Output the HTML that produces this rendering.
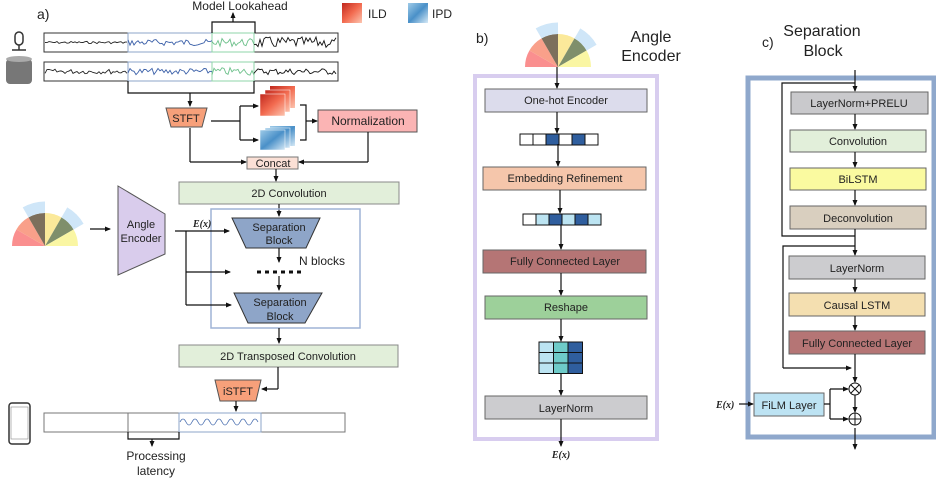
<!DOCTYPE html>
<html><head><meta charset="utf-8"><style>
body{margin:0;background:#fff}
svg{display:block}
text{font-family:"Liberation Sans",sans-serif;fill:#222}
.t{font-size:11px;text-anchor:middle}
.l{stroke:#111;stroke-width:1.2;fill:none}
</style></head><body>
<svg id="s" width="936" height="480" viewBox="0 0 936 480" xmlns="http://www.w3.org/2000/svg">
<defs>
<marker id="a" markerWidth="6" markerHeight="6" refX="5" refY="3" orient="auto" markerUnits="userSpaceOnUse"><path d="M0,0.5L6,3L0,5.5z" fill="#111"/></marker>
<linearGradient id="ild" x1="0" y1="0" x2="1" y2="1"><stop offset="0" stop-color="#c0281e"/><stop offset=".5" stop-color="#f26a4f"/><stop offset="1" stop-color="#fcc5b0"/></linearGradient>
<linearGradient id="ipd" x1="0" y1="0" x2="1" y2="1"><stop offset="0" stop-color="#9fcbe8"/><stop offset=".5" stop-color="#4a90c8"/><stop offset="1" stop-color="#d6e9f6"/></linearGradient>
</defs>

<text x="37" y="19" style="font-size:14px">a)</text>
<text x="240" y="10" style="font-size:12px;text-anchor:middle">Model Lookahead</text>
<rect x="342" y="3" width="20" height="20" fill="url(#ild)"/><text x="368" y="18" style="font-size:12px">ILD</text>
<rect x="408" y="3" width="20" height="20" fill="url(#ipd)"/><text x="432" y="18" style="font-size:12px">IPD</text>
<rect x="15" y="32" width="8" height="13" rx="4" fill="none" stroke="#333" stroke-width="1.5"/>
<line x1="19" y1="45" x2="19" y2="50" stroke="#333" stroke-width="1.5"/><line x1="12" y1="50" x2="26" y2="50" stroke="#333" stroke-width="1.5"/>
<rect x="6" y="59" width="26" height="25" rx="4" fill="#777"/><ellipse cx="19" cy="59" rx="13" ry="3" fill="#aaa"/>
<rect x="44" y="33" width="294" height="19" fill="none" stroke="#333"/>
<rect x="44" y="62" width="294" height="19" fill="none" stroke="#333"/>
<rect x="128" y="33" width="84" height="19" fill="none" stroke="#8ea5c8"/>
<rect x="128" y="62" width="84" height="19" fill="none" stroke="#8ea5c8"/>
<rect x="212" y="33" width="42" height="19" fill="none" stroke="#8fd4a8"/>
<rect x="212" y="62" width="42" height="19" fill="none" stroke="#8fd4a8"/>
<g id="waves"></g>
<path d="M212,33V22H255V33" class="l"/>
<line x1="233" y1="22" x2="233" y2="13" class="l" marker-end="url(#a)"/>
<path d="M128,81V93H254V81" class="l"/>
<line x1="190" y1="93" x2="190" y2="106" class="l" marker-end="url(#a)"/>
<polygon points="166,108 207,108 202,127 171,127" fill="#f7a07a" stroke="#555"/>
<text x="186" y="122" class="t">STFT</text>
<path d="M211,121H240M240,106V140" class="l"/>
<line x1="240" y1="106" x2="258" y2="106" class="l" marker-end="url(#a)"/>
<line x1="240" y1="140" x2="258" y2="140" class="l" marker-end="url(#a)"/>
<rect x="270" y="86" width="25" height="22" fill="url(#ild)"/><rect x="265" y="90" width="25" height="22" fill="url(#ild)" stroke="#fff" stroke-width=".5"/><rect x="260" y="94" width="25" height="22" fill="url(#ild)" stroke="#fff" stroke-width=".5"/>
<rect x="270" y="126" width="25" height="20" fill="url(#ipd)"/><rect x="265" y="128" width="25" height="20" fill="url(#ipd)" stroke="#fff" stroke-width=".5"/><rect x="260" y="130" width="25" height="20" fill="url(#ipd)" stroke="#fff" stroke-width=".5"/>
<path d="M300,105H306V140H300" class="l"/>
<line x1="306" y1="121" x2="317" y2="121" class="l" marker-end="url(#a)"/>
<rect x="318" y="110" width="99" height="22" fill="#fbb4b4" stroke="#555"/>
<text x="368" y="125" style="font-size:12px;text-anchor:middle">Normalization</text>
<path d="M368,132V162" class="l"/><line x1="368" y1="162" x2="299" y2="162" class="l" marker-end="url(#a)"/>
<path d="M190,128V162" class="l"/><line x1="190" y1="162" x2="246" y2="162" class="l" marker-end="url(#a)"/>
<rect x="247" y="157" width="51" height="12" fill="#fbe0d6" stroke="#777"/>
<text x="273" y="167" class="t">Concat</text>
<line x1="276" y1="169" x2="276" y2="181" class="l" marker-end="url(#a)"/>
<rect x="179" y="182" width="220" height="22" fill="#e2efda" stroke="#888"/>
<text x="289" y="197" class="t">2D Convolution</text>
<line x1="279" y1="204" x2="279" y2="216" class="l" marker-end="url(#a)"/>
<rect x="211" y="209" width="149" height="119" fill="none" stroke="#9fb3d6" stroke-width="1.5"/>
<polygon points="232,218 320,218 306,248 246,248" fill="#8ea5c8" stroke="#333"/>
<text x="279" y="231" class="t">Separation</text><text x="279" y="244" class="t">Block</text>
<line x1="279" y1="248" x2="279" y2="262" class="l" marker-end="url(#a)"/>
<text x="299" y="265" style="font-size:12px">N blocks</text>
<line x1="257" y1="272" x2="301" y2="272" stroke="#111" stroke-width="3" stroke-dasharray="4,4"/>
<line x1="279" y1="276" x2="279" y2="290" class="l" marker-end="url(#a)"/>
<polygon points="234,293 322,293 305,323 248,323" fill="#8ea5c8" stroke="#333"/>
<text x="280" y="306" class="t">Separation</text><text x="280" y="320" class="t">Block</text>
<polygon points="118,186 165,214 165,254 118,275" fill="#d9ccec" stroke="#555"/>
<text x="141" y="228" class="t">Angle</text><text x="141" y="242" class="t">Encoder</text>
<line x1="90" y1="229" x2="110" y2="229" class="l" marker-end="url(#a)"/>
<text x="193" y="227" style="font-family:'Liberation Serif',serif;font-style:italic;font-weight:bold;font-size:10px">E(x)</text>
<line x1="175" y1="231" x2="229" y2="231" class="l" marker-end="url(#a)"/>
<path d="M186,231V305" class="l"/>
<line x1="186" y1="272" x2="230" y2="272" class="l" marker-end="url(#a)"/>
<line x1="186" y1="305" x2="231" y2="305" class="l" marker-end="url(#a)"/>
<g id="fan1" transform="translate(45,246)"></g>
<line x1="279" y1="328" x2="279" y2="343" class="l" marker-end="url(#a)"/>
<rect x="179" y="345" width="219" height="22" fill="#e2efda" stroke="#888"/>
<text x="288" y="360" class="t">2D Transposed Convolution</text>
<path d="M278,367V389" class="l"/><line x1="278" y1="389" x2="262" y2="389" class="l" marker-end="url(#a)"/>
<polygon points="215,380 261,380 256,401 220,401" fill="#f7a07a" stroke="#555"/>
<text x="238" y="395" class="t">iSTFT</text>
<line x1="236" y1="401" x2="236" y2="411" class="l" marker-end="url(#a)"/>
<rect x="44" y="413" width="301" height="19" fill="none" stroke="#777"/>
<line x1="128" y1="413" x2="128" y2="432" stroke="#777"/>
<rect x="179" y="413" width="82" height="19" fill="none" stroke="#8ea5c8"/>
<path d="M180,422 q3,-6 6,0 t6,0 t6,0 t6,0 t6,0 t6,0 t6,0 t6,0 t6,0 t6,0 t6,0 t6,0 t6,0" fill="none" stroke="#4a6fb0" stroke-width="0.8"/>
<path d="M128,432V439H179V432" class="l"/>
<line x1="152" y1="439" x2="152" y2="446" class="l" marker-end="url(#a)"/>
<text x="156" y="460" style="font-size:12px;text-anchor:middle">Processing</text>
<text x="156" y="475" style="font-size:12px;text-anchor:middle">latency</text>
<rect x="9" y="403" width="21" height="41" rx="3" fill="none" stroke="#333" stroke-width="1.5"/>
<rect x="11" y="407" width="17" height="32" fill="none" stroke="#888" stroke-width=".6"/>

<text x="476" y="43" style="font-size:14px">b)</text>
<text x="651" y="42" style="font-size:16px;text-anchor:middle">Angle</text>
<text x="651" y="61" style="font-size:16px;text-anchor:middle">Encoder</text>
<g id="fan2" transform="translate(558,67)"></g>
<rect x="475" y="76" width="182" height="363" fill="none" stroke="#d8cdef" stroke-width="4"/>
<line x1="557" y1="67" x2="557" y2="88" class="l" marker-end="url(#a)"/>
<rect x="485" y="89" width="162" height="23" fill="#dcdcec" stroke="#666"/>
<text x="566" y="104" class="t">One-hot Encoder</text>
<line x1="557" y1="112" x2="557" y2="133" class="l" marker-end="url(#a)"/>
<g id="v1"></g>
<line x1="558" y1="144" x2="558" y2="166" class="l" marker-end="url(#a)"/>
<rect x="483" y="167" width="163" height="23" fill="#f5c6ab" stroke="#666"/>
<text x="565" y="182" class="t">Embedding Refinement</text>
<line x1="560" y1="190" x2="560" y2="213" class="l" marker-end="url(#a)"/>
<g id="v2"></g>
<line x1="561" y1="225" x2="561" y2="249" class="l" marker-end="url(#a)"/>
<rect x="483" y="250" width="163" height="23" fill="#b57575" stroke="#666"/>
<text x="565" y="265" class="t">Fully Connected Layer</text>
<line x1="561" y1="273" x2="561" y2="295" class="l" marker-end="url(#a)"/>
<rect x="485" y="296" width="162" height="23" fill="#9dd09a" stroke="#666"/>
<text x="566" y="311" class="t">Reshape</text>
<line x1="561" y1="319" x2="561" y2="341" class="l" marker-end="url(#a)"/>
<g id="grid"></g>
<line x1="561" y1="373" x2="561" y2="395" class="l" marker-end="url(#a)"/>
<rect x="485" y="396" width="162" height="23" fill="#cccccf" stroke="#666"/>
<text x="566" y="412" class="t">LayerNorm</text>
<line x1="561" y1="419" x2="561" y2="446" class="l" marker-end="url(#a)"/>
<text x="561" y="458" style="font-family:'Liberation Serif',serif;font-style:italic;font-weight:bold;font-size:10px;text-anchor:middle">E(x)</text>

<text x="762" y="47" style="font-size:14px">c)</text>
<text x="822" y="36" style="font-size:16px;text-anchor:middle">Separation</text>
<text x="823" y="56" style="font-size:16px;text-anchor:middle">Block</text>
<rect x="748" y="78" width="186" height="359" fill="none" stroke="#8fa8cc" stroke-width="5"/>
<line x1="855" y1="70" x2="855" y2="91" class="l" marker-end="url(#a)"/>
<path d="M855,83H782V236H855" class="l"/>
<rect x="791" y="92" width="137" height="22" fill="#c9c9cc" stroke="#666"/>
<text x="859" y="107" class="t">LayerNorm+PRELU</text>
<line x1="855" y1="114" x2="855" y2="129" class="l" marker-end="url(#a)"/>
<rect x="790" y="130" width="136" height="22" fill="#e2efda" stroke="#666"/>
<text x="858" y="145" class="t">Convolution</text>
<line x1="855" y1="152" x2="855" y2="167" class="l" marker-end="url(#a)"/>
<rect x="790" y="168" width="136" height="22" fill="#fafaa0" stroke="#666"/>
<text x="858" y="183" class="t">BiLSTM</text>
<line x1="855" y1="190" x2="855" y2="205" class="l" marker-end="url(#a)"/>
<rect x="790" y="206" width="136" height="23" fill="#d9cfbf" stroke="#666"/>
<text x="858" y="222" class="t">Deconvolution</text>
<path d="M855,229V246" class="l"/>
<line x1="855" y1="246" x2="855" y2="255" class="l" marker-end="url(#a)"/>
<path d="M855,246H783V368" class="l"/>
<line x1="783" y1="368" x2="851" y2="368" class="l" marker-end="url(#a)"/>
<rect x="789" y="256" width="136" height="23" fill="#cccccf" stroke="#666"/>
<text x="857" y="272" class="t">LayerNorm</text>
<line x1="855" y1="279" x2="855" y2="292" class="l" marker-end="url(#a)"/>
<rect x="789" y="293" width="136" height="23" fill="#f4dfb0" stroke="#666"/>
<text x="857" y="309" class="t">Causal LSTM</text>
<line x1="855" y1="316" x2="855" y2="330" class="l" marker-end="url(#a)"/>
<rect x="789" y="331" width="136" height="23" fill="#b57575" stroke="#666"/>
<text x="857" y="347" class="t">Fully Connected Layer</text>
<line x1="855" y1="354" x2="855" y2="382" class="l" marker-end="url(#a)"/>
<circle cx="855" cy="389" r="6" fill="#fff" stroke="#111"/>
<path d="M851,385L859,393M859,385L851,393" stroke="#111"/>
<line x1="855" y1="395" x2="855" y2="412" class="l" marker-end="url(#a)"/>
<circle cx="855" cy="419" r="6" fill="#fff" stroke="#111"/>
<path d="M849,419H861M855,413V425" stroke="#111"/>
<line x1="855" y1="428" x2="855" y2="449" class="l" marker-end="url(#a)"/>
<text x="716" y="408" style="font-family:'Liberation Serif',serif;font-style:italic;font-weight:bold;font-size:10px">E(x)</text>
<line x1="739" y1="404" x2="753" y2="404" class="l" marker-end="url(#a)"/>
<rect x="754" y="393" width="70" height="23" fill="#bde3f3" stroke="#666"/>
<text x="789" y="409" class="t">FiLM Layer</text>
<path d="M824,404H830M830,389V419" class="l"/>
<line x1="830" y1="389" x2="848" y2="389" class="l" marker-end="url(#a)"/>
<line x1="830" y1="419" x2="848" y2="419" class="l" marker-end="url(#a)"/>
</svg>
<script>
var NS="http://www.w3.org/2000/svg";
function el(p,t,a){var e=document.createElementNS(NS,t);for(var k in a)e.setAttribute(k,a[k]);p.appendChild(e);return e;}
var w=document.getElementById("waves");var seed=7;function r(){seed=(seed*9301+49297)%233280;return seed/233280;}
[[42.5,0],[71.5,1]].forEach(function(row){var cy=row[0];
 [[45,128,"#222",row[1]?3:1.5],[128,212,"#3a5fa8",4],[212,254,"#6cc08a",5],[254,337,"#111",row[1]?4:7]].forEach(function(s){
  var d="";for(var x=s[0];x<=s[1];x+=2){var y=cy+(r()-0.5)*s[3]*1.6;d+=(x==s[0]?"M":"L")+x+","+y.toFixed(1);}
  el(w,"path",{d:d,fill:"none",stroke:s[2],"stroke-width":0.9});});});
function fan(id,R){var g=document.getElementById(id);
 var cols=["#fa8f8f","#f9a08a","#7c6f5c","#fbe99a","#7f8f6b","#faf6a3"];
 var ang=[180,150,120,90,60,30,0];
 for(var i=0;i<6;i++){var a1=ang[i]*Math.PI/180,a2=ang[i+1]*Math.PI/180;
  el(g,"path",{d:"M0,0L"+(R*Math.cos(a1)).toFixed(1)+","+(-R*Math.sin(a1)).toFixed(1)+"A"+R+","+R+" 0 0 1 "+(R*Math.cos(a2)).toFixed(1)+","+(-R*Math.sin(a2)).toFixed(1)+"Z",fill:cols[i]});}
 [[120,90],[60,30]].forEach(function(p){var a1=p[0]*Math.PI/180,a2=p[1]*Math.PI/180,R2=R*1.35;
  el(g,"path",{d:"M"+(R*Math.cos(a1))+","+(-R*Math.sin(a1))+"L"+(R2*Math.cos(a1))+","+(-R2*Math.sin(a1))+"A"+R2+","+R2+" 0 0 1 "+(R2*Math.cos(a2))+","+(-R2*Math.sin(a2))+"L"+(R*Math.cos(a2))+","+(-R*Math.sin(a2))+"A"+R+","+R+" 0 0 0 "+(R*Math.cos(a1))+","+(-R*Math.sin(a1))+"Z",fill:"#cfe6f8"});});}
fan("fan1",33);fan("fan2",33);
function vec(id,x,y,c){var g=document.getElementById(id);c.forEach(function(f,i){el(g,"rect",{x:x+i*13,y:y,width:13,height:11,fill:f,stroke:"#111"});});}
vec("v1",520,134,["#fff","#fff","#2f5e9e","#fff","#2f5e9e","#fff"]);
vec("v2",523,214,["#fff","#bce4f2","#2f5e9e","#bce4f2","#2f5e9e","#bce4f2"]);
var gg=document.getElementById("grid");var gc=["#bce4f2","#6ecbc9","#2f5e9e"];
for(var i=0;i<3;i++)for(var j=0;j<3;j++)el(gg,"rect",{x:539+i*14.5,y:342+j*10.5,width:14.5,height:10.5,fill:gc[i],stroke:"#111"});
</script>
</body></html>
